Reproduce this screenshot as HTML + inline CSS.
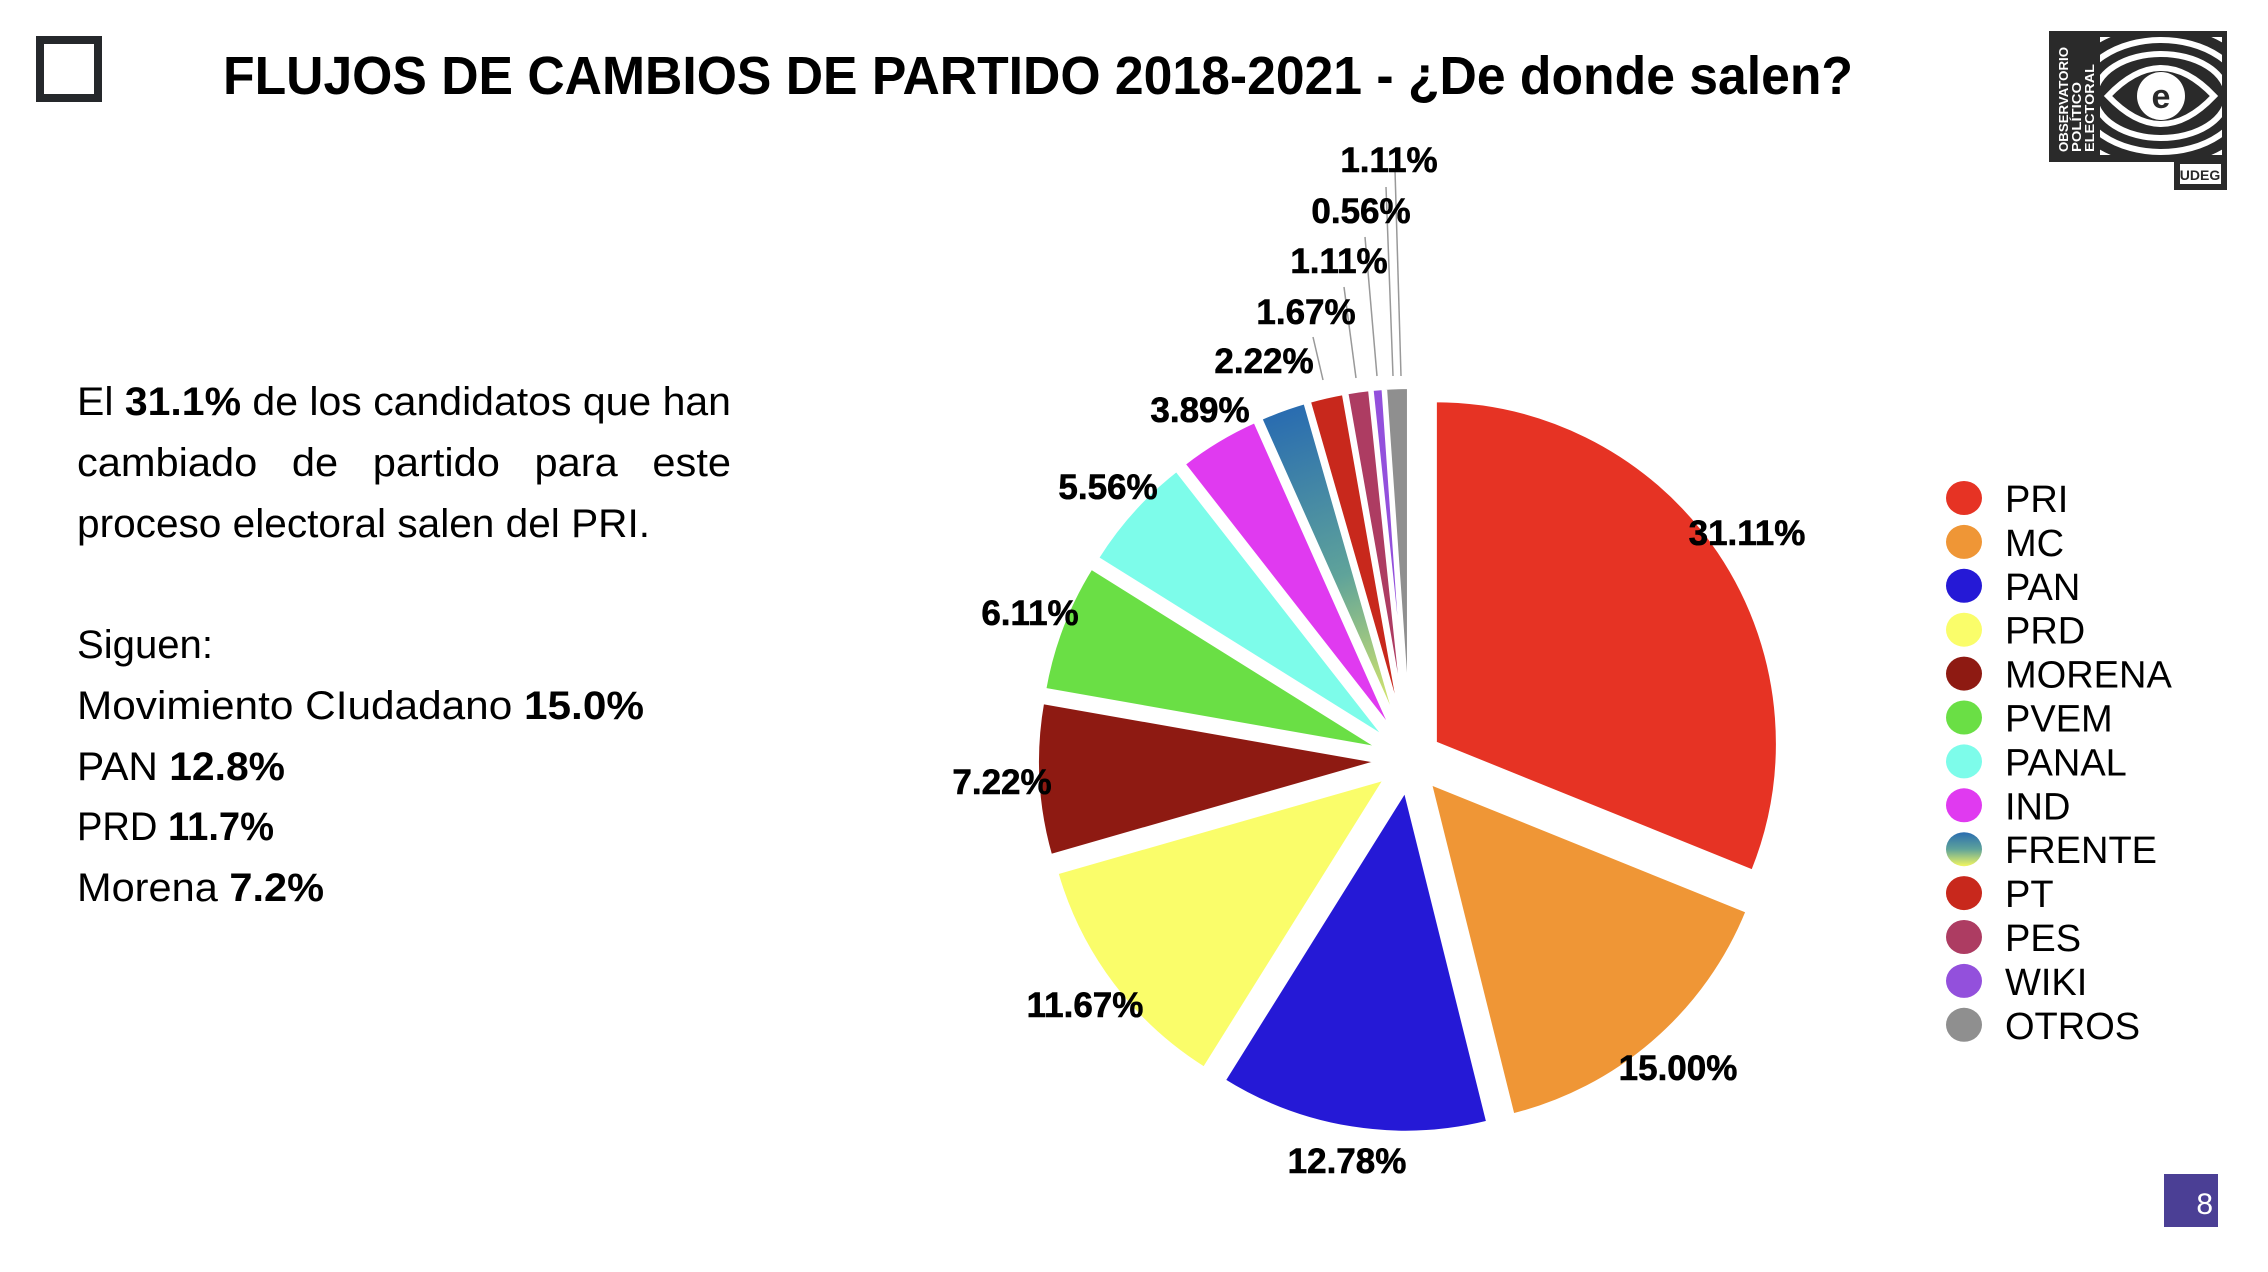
<!DOCTYPE html>
<html><head><meta charset="utf-8"><style>
html,body{margin:0;padding:0;background:#fff;}
body{width:2268px;height:1272px;overflow:hidden;}
svg{display:block;}
.t{font-family:"Liberation Sans",sans-serif;fill:#000;}
.lb{font-family:"Liberation Sans",sans-serif;font-weight:bold;font-size:35px;fill:#000;stroke:#000;stroke-width:0.6;}
.lg{font-family:"Liberation Sans",sans-serif;font-size:38px;fill:#000;}
</style></head><body>
<svg id="s" width="2268" height="1272" viewBox="0 0 2268 1272" xmlns="http://www.w3.org/2000/svg">
<defs>
<linearGradient id="fr" x1="0" y1="0" x2="0" y2="1">
<stop offset="0" stop-color="#2a6db0"/><stop offset="0.5" stop-color="#5fa39a"/><stop offset="1" stop-color="#f2f660"/>
</linearGradient>
<linearGradient id="frs" gradientUnits="userSpaceOnUse" x1="1295" y1="410" x2="1408" y2="735">
<stop offset="0" stop-color="#2a6db0"/><stop offset="0.5" stop-color="#5fa39a"/><stop offset="1" stop-color="#f2f660"/>
</linearGradient>
</defs>
<rect x="40" y="40" width="58" height="58" fill="none" stroke="#25282b" stroke-width="8"/>
<text class="t" x="223" y="94" font-size="54" font-weight="bold" textLength="1630" lengthAdjust="spacingAndGlyphs">FLUJOS DE CAMBIOS DE PARTIDO 2018-2021 - ¿De donde salen?</text>

<g class="t" font-size="40">
<text x="77" y="415" textLength="654" lengthAdjust="spacingAndGlyphs">El <tspan font-weight="bold">31.1%</tspan> de los candidatos que han</text>
<text x="77" y="476" textLength="654" lengthAdjust="spacingAndGlyphs">cambiado&#160;&#160;&#160;de&#160;&#160;&#160;partido&#160;&#160;&#160;para&#160;&#160;&#160;este</text>
<text x="77" y="537" textLength="573" lengthAdjust="spacingAndGlyphs">proceso electoral salen del PRI.</text>
<text x="77" y="658" textLength="136" lengthAdjust="spacingAndGlyphs">Siguen:</text>
<text x="77" y="719" textLength="567" lengthAdjust="spacingAndGlyphs">Movimiento CIudadano <tspan font-weight="bold">15.0%</tspan></text>
<text x="77" y="780" textLength="208" lengthAdjust="spacingAndGlyphs">PAN <tspan font-weight="bold">12.8%</tspan></text>
<text x="77" y="840" textLength="197" lengthAdjust="spacingAndGlyphs">PRD <tspan font-weight="bold">11.7%</tspan></text>
<text x="77" y="901" textLength="247" lengthAdjust="spacingAndGlyphs">Morena <tspan font-weight="bold">7.2%</tspan></text>
</g>

<g id="pie"></g>

<g stroke="#999" stroke-width="1.5">
<line x1="1313" y1="337" x2="1323" y2="380"/>
<line x1="1344" y1="287" x2="1356" y2="378"/>
<line x1="1365" y1="237" x2="1377" y2="376"/>
<line x1="1386" y1="187" x2="1393" y2="376"/>
<line x1="1395" y1="170" x2="1401" y2="376"/>
</g>

<g id="labels"></g>
<g id="legend"></g>

<rect x="2049" y="31" width="178" height="131" fill="#2a2a2a"/>
<rect x="2174" y="150" width="53" height="40" fill="#2a2a2a"/>
<rect x="2180" y="164" width="41" height="20" fill="#fff"/>
<text x="2200" y="180" text-anchor="middle" font-family="Liberation Sans,sans-serif" font-weight="bold" font-size="14" fill="#2a2a2a">UDEG</text>
<g font-family="Liberation Sans,sans-serif" font-weight="bold" font-size="13" fill="#fff">
<text transform="translate(2068,152) rotate(-90)" textLength="105" lengthAdjust="spacingAndGlyphs">OBSERVATORIO</text>
<text transform="translate(2081,152) rotate(-90)" textLength="70" lengthAdjust="spacingAndGlyphs">POLÍTICO</text>
<text transform="translate(2094,152) rotate(-90)" textLength="88" lengthAdjust="spacingAndGlyphs">ELECTORAL</text>
</g>
<clipPath id="lc"><rect x="2100" y="37" width="122" height="118"/></clipPath>
<g clip-path="url(#lc)" fill="none" stroke="#fff" stroke-width="6">
<ellipse cx="2161" cy="96" rx="100" ry="72"/>
<ellipse cx="2161" cy="96" rx="82" ry="56"/>
<ellipse cx="2161" cy="96" rx="66" ry="42"/>
<path d="M2108 96 Q2161 40 2214 96 Q2161 152 2108 96Z"/>
<circle cx="2161" cy="96" r="24" fill="#fff" stroke="none"/>
</g>
<text x="2161" y="108" text-anchor="middle" font-family="Liberation Sans,sans-serif" font-weight="bold" font-size="34" fill="#2a2a2a">e</text>

<rect x="2164" y="1174" width="54" height="53" fill="#4b3f95"/>
<text x="2213" y="1214" text-anchor="end" font-family="Liberation Sans,sans-serif" font-size="30" fill="#fff">8</text>
</svg>
<script>
var NS="http://www.w3.org/2000/svg";
var cx=1410,cy=760,R=343,d=30;
var data=[["PRI",56,"#e63324"],["MC",27,"#ef9636"],["PAN",23,"#2519d6"],["PRD",21,"#fafd6a"],["MORENA",13,"#8e1a12"],["PVEM",11,"#6adf45"],["PANAL",10,"#7dfcea"],["IND",7,"#e03af0"],["FRENTE",4,"url(#frs)"],["PT",3,"#c8281c"],["PES",2,"#ad3c62"],["WIKI",1,"#9350dc"],["OTROS",2,"#8f8f8f"]];
var tot=180,acc=0,pie=document.getElementById("pie");
function pt(x,y,r,a){return [x+r*Math.sin(a),y-r*Math.cos(a)];}
data.forEach(function(s){
 var a0=acc/tot*2*Math.PI; acc+=s[1]; var a1=acc/tot*2*Math.PI; var m=(a0+a1)/2;
 var ox=cx+d*Math.sin(m), oy=cy-d*Math.cos(m);
 var p0=pt(ox,oy,R,a0),p1=pt(ox,oy,R,a1);
 var large=(a1-a0)>Math.PI?1:0;
 var p=document.createElementNS(NS,"path");
 p.setAttribute("d","M"+ox+" "+oy+"L"+p0[0]+" "+p0[1]+"A"+R+" "+R+" 0 "+large+" 1 "+p1[0]+" "+p1[1]+"Z");
 p.setAttribute("fill",s[2]);p.setAttribute("stroke","#fff");p.setAttribute("stroke-width","4");p.setAttribute("stroke-linejoin","round");
 pie.appendChild(p);
});
var labs=[["31.11%",1747,532],["15.00%",1678,1067],["12.78%",1347,1160],["11.67%",1085,1004],["7.22%",1002,781],["6.11%",1030,612],["5.56%",1108,486],["3.89%",1200,409],["2.22%",1264,360],["1.67%",1306,311],["1.11%",1339,260],["0.56%",1361,210],["1.11%",1389,159]];
var lg=document.getElementById("labels");
labs.forEach(function(l){var t=document.createElementNS(NS,"text");t.setAttribute("class","lb");t.setAttribute("x",l[1]);t.setAttribute("y",l[2]+13);t.setAttribute("text-anchor","middle");t.textContent=l[0];lg.appendChild(t);});
var leg=document.getElementById("legend");
data.forEach(function(s,i){var y=498+i*43.9;
 var c=document.createElementNS(NS,"ellipse");c.setAttribute("cx",1964);c.setAttribute("cy",y);c.setAttribute("rx",18);c.setAttribute("ry",17);
 c.setAttribute("fill",s[0]=="FRENTE"?"url(#fr)":s[2]);leg.appendChild(c);
 var t=document.createElementNS(NS,"text");t.setAttribute("class","lg");t.setAttribute("x",2005);t.setAttribute("y",y+14);t.textContent=s[0];leg.appendChild(t);});
</script>
</body></html>
